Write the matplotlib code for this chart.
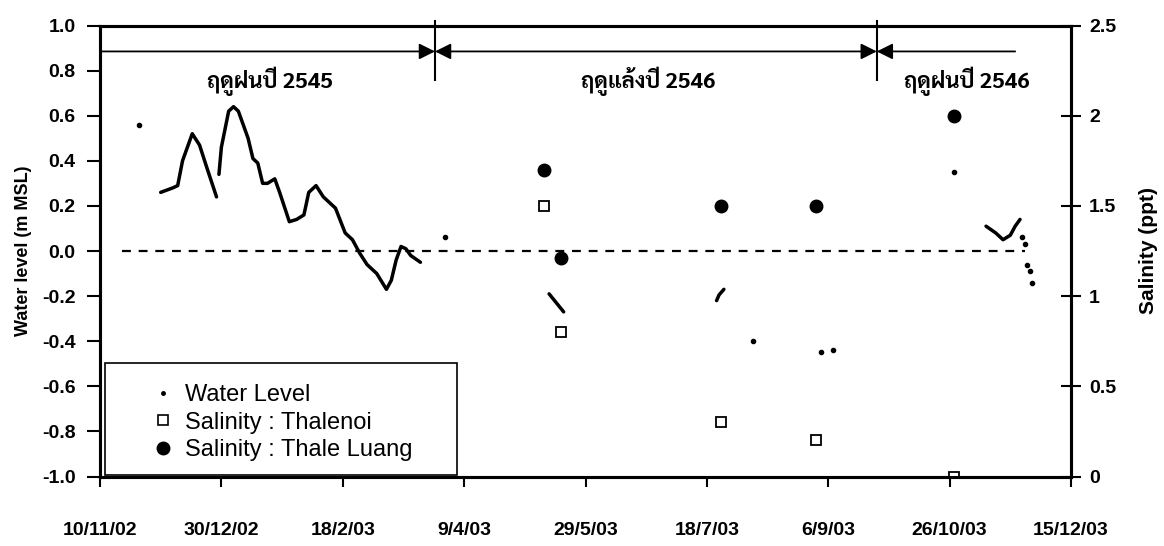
import matplotlib
matplotlib.use('Agg')
import matplotlib.pyplot as plt
import matplotlib.dates as mdates
from matplotlib.lines import Line2D
from matplotlib.patches import Rectangle
from matplotlib.ticker import FuncFormatter, FormatStrFormatter
import numpy as np
import pandas as pd

plt.rcParams['font.family'] = ['Liberation Sans', 'DejaVu Sans']
plt.rcParams['axes.unicode_minus'] = False
THAI = ['Sarabun', 'Noto Sans Thai', 'Liberation Sans']

# water level (m MSL); readings sharing a run id are consecutive days
wl_dates = ['2002-11-26',
            '2002-12-05', '2002-12-10', '2002-12-12', '2002-12-14', '2002-12-18',
            '2002-12-21', '2002-12-24', '2002-12-28',
            '2002-12-29', '2002-12-30', '2003-01-02', '2003-01-04', '2003-01-06',
            '2003-01-10', '2003-01-12', '2003-01-14', '2003-01-16', '2003-01-18',
            '2003-01-21', '2003-01-23', '2003-01-27', '2003-01-30', '2003-02-02',
            '2003-02-04', '2003-02-07', '2003-02-10', '2003-02-13', '2003-02-15',
            '2003-02-19', '2003-02-22', '2003-02-25', '2003-02-28', '2003-03-04',
            '2003-03-08', '2003-03-10', '2003-03-12', '2003-03-14', '2003-03-16',
            '2003-03-18', '2003-03-22',
            '2003-04-01',
            '2003-05-14', '2003-05-17', '2003-05-20',
            '2003-07-22', '2003-07-23', '2003-07-25',
            '2003-08-06', '2003-09-03', '2003-09-08', '2003-10-28',
            '2003-11-10', '2003-11-14', '2003-11-17', '2003-11-20', '2003-11-22',
            '2003-11-24',
            '2003-11-25', '2003-11-26', '2003-11-27', '2003-11-28', '2003-11-29']
wl_level = [0.56,
            0.26, 0.28, 0.29, 0.40, 0.52, 0.47, 0.37, 0.24,
            0.34, 0.46, 0.62, 0.64, 0.62, 0.50, 0.41, 0.39, 0.30, 0.30,
            0.32, 0.26, 0.13, 0.14, 0.16, 0.26, 0.29, 0.24, 0.21, 0.19,
            0.08, 0.05, -0.01, -0.06, -0.10, -0.17, -0.13, -0.04, 0.02, 0.01,
            -0.02, -0.05,
            0.06,
            -0.19, -0.23, -0.27,
            -0.22, -0.195, -0.17,
            -0.40, -0.45, -0.44, 0.35,
            0.11, 0.08, 0.05, 0.07, 0.11, 0.14,
            0.06, 0.03, -0.06, -0.09, -0.14]
wl_run = [0,
          1, 1, 1, 1, 1, 1, 1, 1,
          2, 2, 2, 2, 2, 2, 2, 2, 2, 2,
          2, 2, 2, 2, 2, 2, 2, 2, 2, 2,
          2, 2, 2, 2, 2, 2, 2, 2, 2, 2,
          2, 2,
          3,
          4, 4, 4,
          5, 5, 5,
          6, 7, 8, 9,
          10, 10, 10, 10, 10, 10,
          11, 12, 13, 14, 15]

msl_dates = ['2002-11-19', '2003-11-26']
msl_level = [0.0, 0.0]

# salinity (ppt)
sal_dates = ['2003-05-12', '2003-05-19', '2003-07-24', '2003-09-01', '2003-10-28']
sal_thalenoi = [1.50, 0.80, 0.30, 0.20, 0.00]
sal_thale_luang = [1.70, 1.21, 1.50, 1.50, 2.00]

season_bounds = ['2002-11-10', '2003-03-28', '2003-09-26', '2003-11-22']
season_labels = ['ฤดูฝนปี 2545', 'ฤดูแล้งปี 2546', 'ฤดูฝนปี 2546']
season_label_dates = ['2003-01-19', '2003-06-24', '2003-11-02']

x_ticks = pd.date_range('2002-11-10', periods=9, freq='50D')

wl = pd.DataFrame({'date': pd.to_datetime(wl_dates), 'level': wl_level, 'run': wl_run})
sal_d = pd.to_datetime(sal_dates)

fig = plt.figure(figsize=(11.64, 5.46), dpi=100)
ax = fig.add_axes([100 / 1164, 1 - 476.5 / 546, 971 / 1164, 451 / 546])
ax2 = ax.twinx()

for run, g in wl.groupby('run'):
    if len(g) > 1:
        ax.plot(g['date'], g['level'], color='black', lw=2.5, solid_capstyle='round')
    else:
        ax.plot(g['date'], g['level'], ls='none', marker='o', ms=3, color='black')

ax.plot(pd.to_datetime(msl_dates), msl_level, color='black', lw=1.6, dashes=(4, 3.5))

ax2.plot(sal_d, sal_thalenoi, ls='none', marker='s', ms=7, mfc='white', mec='black', mew=1.3)
ax2.plot(sal_d, sal_thale_luang, ls='none', marker='o', ms=9, color='black')

# season header
sb = pd.to_datetime(season_bounds)
yh = 0.885
arrow = dict(color='black', lw=1.3, shrinkA=0, shrinkB=0, mutation_scale=24)
ax.annotate('', xy=(sb[1], yh), xytext=(sb[0], yh),
            arrowprops=dict(arrowstyle='-|>', **arrow), annotation_clip=False)
ax.annotate('', xy=(sb[2], yh), xytext=(sb[1], yh),
            arrowprops=dict(arrowstyle='<|-|>', **arrow), annotation_clip=False)
ax.annotate('', xy=(sb[3], yh), xytext=(sb[2], yh),
            arrowprops=dict(arrowstyle='<|-', **arrow), annotation_clip=False)
for b in sb[1:3]:
    ax.plot([b, b], [0.76, 1.02], color='black', lw=1.5, clip_on=False)
for lab, d in zip(season_labels, pd.to_datetime(season_label_dates)):
    ax.text(d, 0.725, lab, ha='center', va='baseline', fontsize=16,
            fontweight='bold', family=THAI)

ax.set_xlim(pd.Timestamp('2002-11-10'), pd.Timestamp('2003-12-15'))
ax.set_ylim(-1.0, 1.0)
ax2.set_ylim(0, 2.5)
ax.set_xticks(x_ticks)
ax.xaxis.set_major_formatter(FuncFormatter(
    lambda v, pos: (lambda d: f'{d.day}/{d.month}/{d:%y}')(mdates.num2date(v))))
ax.set_yticks(np.round(np.arange(-1.0, 1.01, 0.2), 1))
ax.yaxis.set_major_formatter(FuncFormatter(lambda v, pos: f'{v + 0.0:.1f}'.replace('-0.0', '0.0')))
ax2.set_yticks([0, 0.5, 1, 1.5, 2, 2.5])
ax2.yaxis.set_major_formatter(FormatStrFormatter('%g'))

ax.tick_params(axis='y', direction='out', length=9.5, width=1.5, pad=8, labelsize=14)
ax.tick_params(axis='x', direction='out', length=7, width=1.5, pad=26, labelsize=14)
ax2.tick_params(axis='y', direction='inout', length=14, width=1.5, pad=6, labelsize=14)
for lbl in ax.get_xticklabels() + ax.get_yticklabels() + ax2.get_yticklabels():
    lbl.set_fontweight('bold')
for s in ax.spines.values():
    s.set_linewidth(2.2)
for s in ax2.spines.values():
    s.set_linewidth(2.2)

ax.set_ylabel('Water level (m MSL)', fontsize=13, fontweight='bold', labelpad=7)
ax2.set_ylabel('Salinity (ppt)', fontsize=15, fontweight='bold', labelpad=16)

# legend
ax2.add_patch(Rectangle((0.005, 0.003), 0.3625, 0.249, transform=ax2.transAxes,
                        facecolor='white', edgecolor='black', lw=1.2, zorder=4))
handles = [Line2D([], [], ls='none', marker='o', ms=2.5, color='black'),
           Line2D([], [], ls='none', marker='s', ms=7, mfc='white', mec='black', mew=1.2),
           Line2D([], [], ls='none', marker='o', ms=9, color='black')]
ax2.legend(handles, ['Water Level', 'Salinity : Thalenoi', 'Salinity : Thale Luang'],
           loc='upper left', bbox_to_anchor=(0.0525, 0.205), frameon=False,
           fontsize=17, handlelength=1.0, handletextpad=0.45, borderpad=0,
           borderaxespad=0, labelspacing=0.24)

fig.savefig('out.png', dpi=100)
